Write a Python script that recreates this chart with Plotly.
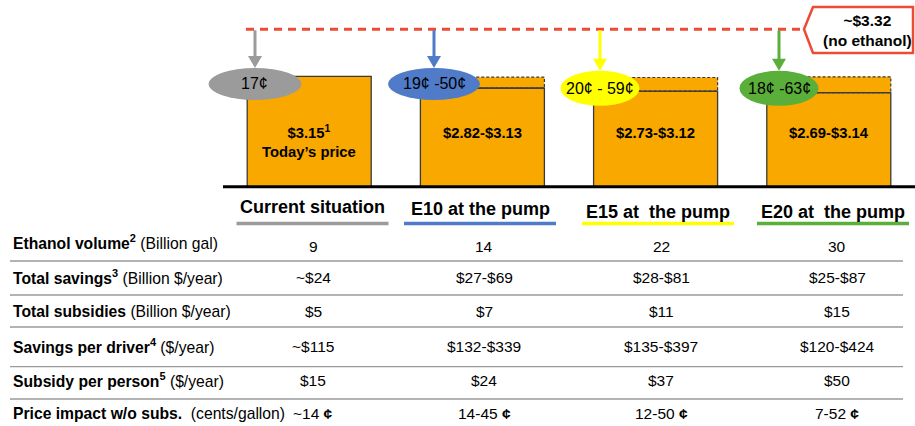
import plotly.graph_objects as go

# ---------------- data ----------------
scenarios = ["Current situation", "E10 at the pump", "E15 at\u00a0 the pump", "E20 at\u00a0 the pump"]
price_low = [3.15, 2.82, 2.73, 2.69]
price_high = [3.15, 3.13, 3.12, 3.14]
no_ethanol_price = 3.32
savings_cents = ["17¢", "19¢ -50¢", "20¢ - 59¢", "18¢ -63¢"]

row_labels = [
    "<b>Ethanol volume<sup>2</sup></b> (Billion gal)",
    "<b>Total savings<sup>3</sup></b> (Billion $/year)",
    "<b>Total subsidies</b> (Billion $/year)",
    "<b>Savings per driver<sup>4</sup></b> ($/year)",
    "<b>Subsidy per person<sup>5</sup></b> ($/year)",
    "<b>Price impact w/o subs.</b>\u00a0 (cents/gallon)",
]
ethanol_volume = ["9", "14", "22", "30"]
total_savings = ["~$24", "$27-$69", "$28-$81", "$25-$87"]
total_subsidies = ["$5", "$7", "$11", "$15"]
savings_per_driver = ["~$115", "$132-$339", "$135-$397", "$120-$424"]
subsidy_per_person = ["$15", "$24", "$37", "$50"]
price_impact = ["~14 <b>¢</b>", "14-45 <b>¢</b>", "12-50 <b>¢</b>", "7-52 <b>¢</b>"]
table_rows = [ethanol_volume, total_savings, total_subsidies,
              savings_per_driver, subsidy_per_person, price_impact]

# ---------------- styles / layout helpers ----------------
W, H = 915, 426
FONT = "Liberation Sans, Arial, sans-serif"
ORANGE = "#F9A800"
OUTLINE = "#3a3a3a"
scen_colors = ["#9B9B9B", "#4F7BC9", "#FFFF00", "#5AAE3A"]
RED = "#EE4B35"

def px(x):
    return x / W

def py(y):
    return 1 - y / H

def text_ann(x, y, text, size, xanchor="center", **kw):
    return dict(xref="paper", yref="paper", x=px(x), y=py(y), text=text,
                showarrow=False, xanchor=xanchor, yanchor="middle",
                font=dict(family=FONT, size=size, color="black"), **kw)

idx = list(range(len(scenarios)))
BAR_W = 0.716
X_RANGE = [-1.7852, 3.4977]
PX_PER_DOLLAR = 35.0
BASE_PX = 186.7
Y_RANGE = [-(H - BASE_PX) / PX_PER_DOLLAR, BASE_PX / PX_PER_DOLLAR]

fig = go.Figure()

# solid part of bars (up to low price)
fig.add_trace(go.Bar(
    x=idx, y=price_low, width=BAR_W,
    marker=dict(color=ORANGE, line=dict(color=OUTLINE, width=1.3)),
    hoverinfo="skip", showlegend=False,
))
# range part (low -> high)
fig.add_trace(go.Bar(
    x=idx, y=[h - l for l, h in zip(price_low, price_high)], base=price_low,
    width=BAR_W, marker=dict(color=ORANGE, line=dict(width=0)),
    hoverinfo="skip", showlegend=False,
))

shapes = []
annotations = []

# dashed outline of range part
for i, (l, h) in enumerate(zip(price_low, price_high)):
    if h > l:
        shapes.append(dict(type="rect", xref="x", yref="y",
                           x0=i - BAR_W / 2, x1=i + BAR_W / 2, y0=l, y1=h,
                           line=dict(color=OUTLINE, width=1.2, dash="3px,2px")))
        shapes.append(dict(type="line", xref="x", yref="y",
                           x0=i - BAR_W / 2, x1=i + BAR_W / 2, y0=l, y1=l,
                           line=dict(color=OUTLINE, width=1.3)))

# baseline
shapes.append(dict(type="line", xref="paper", yref="y", x0=px(223), x1=px(915),
                   y0=0, y1=0, line=dict(color="black", width=3)))

# red dashed reference line (no ethanol)
LINE_Y = 29.3
shapes.append(dict(type="line", xref="paper", yref="paper", x0=px(246), x1=px(804),
                   y0=py(LINE_Y), y1=py(LINE_Y),
                   line=dict(color=RED, width=3, dash="8px,6px")))
# callout box
path = "M {} {} L {} {} L {} {} L {} {} L {} {} Z".format(
    px(804), py(LINE_Y), px(813), py(7), px(913), py(7), px(913), py(53), px(813), py(53))
shapes.append(dict(type="path", xref="paper", yref="paper", path=path,
                   fillcolor="white", line=dict(color=RED, width=2.5)))
annotations.append(text_ann(867, 30.5,
                            "<b>~${:.2f}</b><br><b>(no ethanol)</b>".format(no_ethanol_price),
                            15.5, align="center"))

# ellipses with savings, arrows from the red line
ell = [(255, 84, 93, 32), (434, 84, 92, 32), (600, 88.3, 79, 35), (779, 88.3, 79, 35)]
for i, (cx, cy, w, h) in enumerate(ell):
    top = cy - h / 2
    shapes.append(dict(type="line", xref="paper", yref="paper",
                       x0=px(cx), x1=px(cx), y0=py(LINE_Y + 1), y1=py(top - 10),
                       line=dict(color=scen_colors[i], width=3)))
    tri = "M {} {} L {} {} L {} {} Z".format(px(cx - 7), py(top - 12), px(cx + 7), py(top - 12),
                                            px(cx), py(top))
    shapes.append(dict(type="path", xref="paper", yref="paper", path=tri,
                       fillcolor=scen_colors[i], line=dict(width=0)))
    shapes.append(dict(type="circle", xref="paper", yref="paper",
                       x0=px(cx - w / 2), x1=px(cx + w / 2), y0=py(cy + h / 2), y1=py(cy - h / 2),
                       fillcolor=scen_colors[i], line=dict(width=0)))
    annotations.append(text_ann(cx, cy, savings_cents[i], 16))

# bar labels
for i, (l, h) in enumerate(zip(price_low, price_high)):
    if h > l:
        txt = "<b>${:.2f}-${:.2f}</b>".format(l, h)
        yy = 132.5
    else:
        txt = "<b>${:.2f}<sup>1</sup></b><br><b>Today’s price</b>".format(l)
        yy = 142
    annotations.append(dict(xref="x", yref="paper", x=i, y=py(yy), text=txt,
                            showarrow=False, align="center", xanchor="center", yanchor="middle",
                            font=dict(family=FONT, size=14.8, color="black")))

# scenario headers + colored underlines
header_x = [312.5, 480, 658, 833]
header_y = [207, 209, 211.5, 211.5]
for i, s in enumerate(scenarios):
    annotations.append(text_ann(header_x[i], header_y[i], "<b>{}</b>".format(s), 18))
    shapes.append(dict(type="line", xref="paper", yref="paper",
                       x0=px(header_x[i] - 76), x1=px(header_x[i] + 76),
                       y0=py(223.5), y1=py(223.5),
                       line=dict(color=scen_colors[i], width=3.5)))

# table
row_y = [241.7, 277, 311.7, 346, 380, 413]
val_dy = [5, 0, 0, 0, 0, 0]
col_x = [313, 484.5, 661, 837]
sep_y = [261, 295, 327, 366.7, 399]
for r, lab in enumerate(row_labels):
    annotations.append(text_ann(11, row_y[r], lab, 15.7, xanchor="left"))
    for c, v in enumerate(table_rows[r]):
        annotations.append(text_ann(col_x[c], row_y[r] + val_dy[r], v, 15.5))
for sy in sep_y:
    shapes.append(dict(type="line", xref="paper", yref="paper", x0=px(10), x1=px(903),
                       y0=py(sy), y1=py(sy), line=dict(color="#9a9a9a", width=1.3)))

fig.update_layout(
    width=W, height=H, margin=dict(l=0, r=0, t=0, b=0),
    paper_bgcolor="white", plot_bgcolor="white",
    barmode="overlay", showlegend=False,
    xaxis=dict(range=X_RANGE, visible=False, fixedrange=True),
    yaxis=dict(range=Y_RANGE, visible=False, fixedrange=True),
    shapes=shapes, annotations=annotations,
)

fig.write_html("out.html", config={"displayModeBar": False},
               post_script="document.body.style.margin='0';")
